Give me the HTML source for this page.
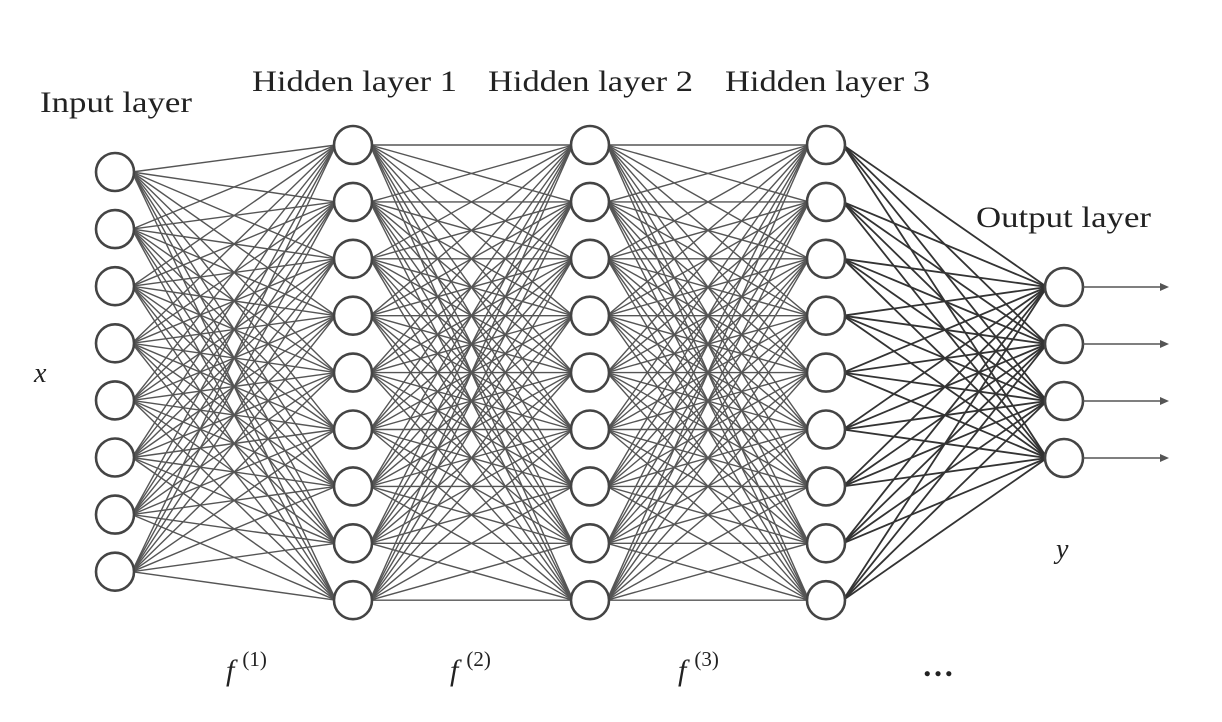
<!DOCTYPE html>
<html><head><meta charset="utf-8"><style>
html,body{margin:0;padding:0;background:#fff;}
svg{display:block;}
text{font-family:"Liberation Serif",serif;fill:#222;}
</style></head><body>
<svg id="c" width="1222" height="722" viewBox="0 0 1222 722">
<g id="edges"></g>
<g id="nodes"></g>
<g id="arrows"></g>
<text x="40" y="112" font-size="30" textLength="152" lengthAdjust="spacingAndGlyphs">Input layer</text>
<text x="252" y="91" font-size="30" textLength="205" lengthAdjust="spacingAndGlyphs">Hidden layer 1</text>
<text x="488" y="91" font-size="30" textLength="205" lengthAdjust="spacingAndGlyphs">Hidden layer 2</text>
<text x="725" y="91" font-size="30" textLength="205" lengthAdjust="spacingAndGlyphs">Hidden layer 3</text>
<text x="976" y="227" font-size="30" textLength="175" lengthAdjust="spacingAndGlyphs">Output layer</text>
<text x="34" y="382" font-size="28" font-style="italic">x</text>
<text x="1056" y="558" font-size="28" font-style="italic">y</text>
<text x="226" y="680" font-size="30" font-style="italic">f<tspan font-style="normal" font-size="21" dy="-14" dx="8">(1)</tspan></text>
<text x="450" y="680" font-size="30" font-style="italic">f<tspan font-style="normal" font-size="21" dy="-14" dx="8">(2)</tspan></text>
<text x="678" y="680" font-size="30" font-style="italic">f<tspan font-style="normal" font-size="21" dy="-14" dx="8">(3)</tspan></text>
<text x="922" y="676" font-size="32" font-weight="bold">…</text>
</svg>
<script>
const layerX=[115,353,590,826,1064];
const layerCounts=[8,9,9,9,4];
const layerTop=[172,145,145,145,287];
const layerGap=[57.1,56.9,56.9,56.9,57];
const R=19;
const ns="http://www.w3.org/2000/svg";
const E=document.getElementById('edges'),N=document.getElementById('nodes'),A=document.getElementById('arrows');
function pos(l){const a=[];for(let i=0;i<layerCounts[l];i++)a.push(layerTop[l]+i*layerGap[l]);return a;}
for(let l=0;l<layerX.length-1;l++){
  const a=pos(l),b=pos(l+1);
  a.forEach(y1=>b.forEach(y2=>{
    const ln=document.createElementNS(ns,'line');
    
    
    ln.setAttribute('x1',layerX[l]+R-2);ln.setAttribute('y1',y1);
    ln.setAttribute('x2',layerX[l+1]-R+2);ln.setAttribute('y2',y2);
    ln.setAttribute('stroke',l==3?'#333':'#555');ln.setAttribute('stroke-width',l==3?1.8:1.4);
    E.appendChild(ln);
  }));
}
for(let l=0;l<layerX.length;l++){
  pos(l).forEach(y=>{
    const c=document.createElementNS(ns,'circle');
    
    
    c.setAttribute('cx',layerX[l]);c.setAttribute('cy',y);c.setAttribute('r',R);
    c.setAttribute('fill','#fff');c.setAttribute('stroke','#444');c.setAttribute('stroke-width',2.6);
    N.appendChild(c);
  });
}
pos(4).forEach(y=>{
  const ln=document.createElementNS(ns,'line');
  
  
  ln.setAttribute('x1',layerX[4]+R);ln.setAttribute('y1',y);ln.setAttribute('x2',1162);ln.setAttribute('y2',y);
  ln.setAttribute('stroke','#555');ln.setAttribute('stroke-width',1.5);
  A.appendChild(ln);
  const p=document.createElementNS(ns,'path');
  
  
  p.setAttribute('d',`M1160 ${y-4} L1169 ${y} L1160 ${y+4} Z`);p.setAttribute('fill','#555');
  A.appendChild(p);
});
</script>
</body></html>
